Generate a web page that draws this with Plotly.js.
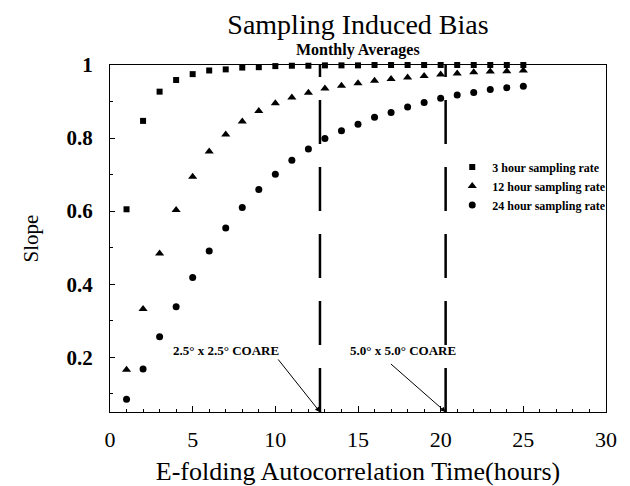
<!DOCTYPE html>
<html>
<head>
<meta charset="utf-8">
<script src="https://cdn.plot.ly/plotly-3.0.1.min.js"></script>
<style>html,body{margin:0;padding:0;background:#fff;}#chart{width:630px;height:486px;}</style>
</head>
<body>
<div id="chart"></div>
<script>
// ---- data ----
var hours = [1,2,3,4,5,6,7,8,9,10,11,12,13,14,15,16,17,18,19,20,21,22,23,24,25];
var slope3h = [0.605,0.847,0.927,0.959,0.975,0.985,0.988,0.993,0.994,0.997,0.998,0.998,0.999,0.999,0.999,1.0,1.0,1.0,1.0,1.0,1.0,1.0,1.0,1.0,1.0];
var slope12h = [0.166,0.332,0.484,0.603,0.694,0.763,0.810,0.845,0.874,0.895,0.911,0.924,0.936,0.943,0.950,0.957,0.962,0.966,0.970,0.974,0.977,0.980,0.982,0.983,0.985];
var slope24h = [0.085,0.168,0.256,0.338,0.418,0.491,0.554,0.610,0.659,0.701,0.739,0.770,0.799,0.820,0.838,0.857,0.870,0.885,0.897,0.909,0.918,0.925,0.933,0.938,0.942];
var seriesNames = ["3 hour sampling rate","12 hour sampling rate","24 hour sampling rate"];
var coareTimes = [12.7, 20.3];
var coareLabels = ["2.5\u00b0 x 2.5\u00b0 COARE","5.0\u00b0 x 5.0\u00b0 COARE"];
var yRange = [0.05, 1.0];
var xRange = [0, 30];

var serif = "Liberation Serif, Times New Roman, serif";

var traces = [
  {x: hours, y: slope3h, name: seriesNames[0], mode: "markers", type: "scatter",
   marker: {symbol: "square", size: 6, color: "#000"}, cliponaxis: false},
  {x: hours, y: slope12h, name: seriesNames[1], mode: "markers", type: "scatter",
   marker: {symbol: "triangle-up", size: 8, color: "#000"}, cliponaxis: false},
  {x: hours, y: slope24h, name: seriesNames[2], mode: "markers", type: "scatter",
   marker: {symbol: "circle", size: 7, color: "#000"}, cliponaxis: false}
];
coareTimes.forEach(function(t){
  traces.push({x: [t, t], y: [yRange[0], yRange[1]], mode: "lines", type: "scatter",
    showlegend: false, hoverinfo: "skip",
    line: {color: "#000", width: 2.5, dash: "44px,23px"}});
});

var annotations = [
  {text: "Monthly Averages", xref: "paper", yref: "paper", x: 0.5, y: 1.043,
   showarrow: false, yanchor: "middle", font: {family: serif, size: 16, color: "#000", weight: "bold"}},
  {text: coareLabels[0], xref: "x", yref: "y", x: 7.0, y: 0.219, showarrow: false,
   font: {family: serif, size: 13, color: "#000", weight: "bold"}},
  {text: coareLabels[1], xref: "x", yref: "y", x: 17.7, y: 0.219, showarrow: false,
   font: {family: serif, size: 13, color: "#000", weight: "bold"}},
  {text: "", xref: "x", yref: "y", x: coareTimes[0], y: yRange[0], axref: "x", ayref: "y",
   ax: 10.1, ay: 0.198, showarrow: true, arrowhead: 2, arrowsize: 1, arrowwidth: 1, arrowcolor: "#000"},
  {text: "", xref: "x", yref: "y", x: coareTimes[1], y: yRange[0], axref: "x", ayref: "y",
   ax: 16.9, ay: 0.185, showarrow: true, arrowhead: 2, arrowsize: 1, arrowwidth: 1, arrowcolor: "#000"}
];

var layout = {
  width: 630, height: 486,
  margin: {l: 110, r: 24, t: 65, b: 74, autoexpand: false},
  paper_bgcolor: "#fff", plot_bgcolor: "#fff",
  font: {family: serif, color: "#000"},
  title: {text: "Sampling Induced Bias", font: {family: serif, size: 28, color: "#000"},
          x: 0.5, xref: "paper", y: 0.95, yref: "container", yanchor: "middle"},
  showlegend: true,
  legend: {x: 0.69, y: 0.748, xanchor: "left", yanchor: "top", bgcolor: "rgba(0,0,0,0)",
           font: {family: serif, size: 12, color: "#000", weight: "bold"}, tracegroupgap: 0},
  xaxis: {range: xRange, showgrid: false, zeroline: false, showline: true, linecolor: "#000", linewidth: 1,
          mirror: true, ticks: "inside", tick0: 0, dtick: 5, ticklen: 6, tickcolor: "#000",
          minor: {ticks: "inside", dtick: 1, ticklen: 3, tickcolor: "#000"},
          ticklabelstandoff: 8,
          tickfont: {family: serif, size: 22, color: "#000"},
          title: {text: "E-folding Autocorrelation Time(hours)", font: {family: serif, size: 26, color: "#000"}, standoff: 11}},
  yaxis: {range: yRange, showgrid: false, zeroline: false, showline: true, linecolor: "#000", linewidth: 1,
          mirror: true, ticks: "inside", tick0: 0, dtick: 0.2, ticklen: 5, tickcolor: "#000",
          minor: {ticks: "inside", dtick: 0.1, ticklen: 3, tickcolor: "#000"},
          ticklabelstandoff: 12,
          tickfont: {family: serif, size: 21, color: "#000", weight: "bold"},
          title: {text: "Slope", font: {family: serif, size: 21, color: "#000"}, standoff: 22}},
  annotations: annotations
};

Plotly.newPlot("chart", traces, layout, {staticPlot: true});
</script>
</body>
</html>
